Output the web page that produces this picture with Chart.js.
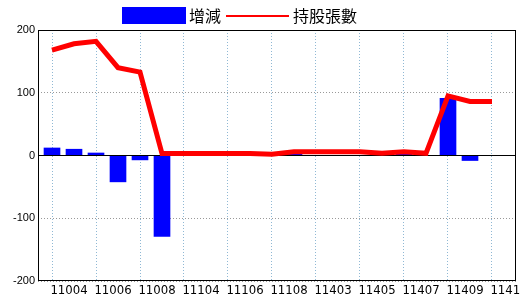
<!DOCTYPE html>
<html><head><meta charset="utf-8">
<script src="https://cdn.jsdelivr.net/npm/chart.js@4/dist/chart.umd.min.js"></script>
<style>html,body{margin:0;padding:0;background:#fff}#wrap{width:520px;height:300px}</style>
</head><body><div id="wrap"><canvas id="c" width="520" height="300"></canvas></div>
<script>
const categories = ['11004','11005','11006','11007','11008','11009','11104','11105','11106','11107','11108','11109','11403','11404','11405','11406','11407','11408','11409','11410','11411'];
const changeLabel = '增減';
const holdingLabel = '持股張數';
const changeValues = [12, 10, 4, -42, -7, -129, 0, 0, 0, 0, 0, 4, 0, 0, 0, 0, 3, 0, 91, -8, 0];
const holdingValues = [168, 178, 182, 140, 133, 3, 3, 3, 3, 3, 2, 6, 6, 6, 6, 3.5, 6, 3.5, 95, 86, 86];
const yTicks = [-200, -100, 0, 100, 200];

const pts = arr => arr.map((v, i) => ({x: i, y: v}));

const extras = {
  id: 'extras',
  afterDatasetDraw(chart, args) {
    if (args.meta.type !== 'bar') return;
    const ctx = chart.ctx, a = chart.chartArea;
    const y = Math.round(chart.scales.y.getPixelForValue(0) - 0.5) + 0.5;
    ctx.save();
    ctx.strokeStyle = '#000'; ctx.lineWidth = 1;
    ctx.beginPath(); ctx.moveTo(a.left, y); ctx.lineTo(a.right, y); ctx.stroke();
    ctx.restore();
  },
  afterDraw(chart) {
    const ctx = chart.ctx, a = chart.chartArea;
    ctx.save();
    ctx.strokeStyle = '#000'; ctx.lineWidth = 1;
    ctx.strokeRect(a.left + 0.5, a.top + 0.5, a.right - a.left - 1, a.bottom - a.top - 1);
    // legend
    const bar = chart.data.datasets.find(d => d.type === 'bar');
    const line = chart.data.datasets.find(d => d.type === 'line');
    ctx.font = '16px "Noto Sans CJK TC", sans-serif';
    ctx.textBaseline = 'middle';
    ctx.fillStyle = bar.backgroundColor;
    ctx.fillRect(122, 7, 64, 17);
    ctx.fillStyle = '#000';
    ctx.fillText(bar.label, 189, 15.5);
    ctx.strokeStyle = line.borderColor; ctx.lineWidth = 2;
    ctx.beginPath(); ctx.moveTo(226, 16); ctx.lineTo(289, 16); ctx.stroke();
    ctx.fillStyle = '#000';
    ctx.fillText(line.label, 293, 15.5);
    ctx.restore();
  }
};

new Chart(document.getElementById('c'), {
  type: 'bar',
  data: {
    datasets: [
      {type: 'line', label: holdingLabel, data: pts(holdingValues), borderColor: '#ff0000', backgroundColor: '#ff0000', borderWidth: 5, pointRadius: 0, tension: 0, fill: false, order: 0},
      {type: 'bar', label: changeLabel, data: pts(changeValues), backgroundColor: '#0000ff', borderWidth: 0, barThickness: 16, order: 1}
    ]
  },
  options: {
    responsive: false,
    animation: false,
    events: [],
    layout: {padding: {top: 30, right: 4, left: 0, bottom: 0}},
    plugins: {legend: {display: false}, tooltip: {enabled: false}},
    scales: {
      x: {
        type: 'linear',
        offset: false,
        min: -0.6364,
        max: 21.091,
        afterBuildTicks: s => { s.ticks = categories.map((c, i) => ({value: i})).filter(t => t.value % 2 === 0); },
        afterFit: s => { s.height = 19; s.paddingLeft = 0; s.paddingRight = 0; },
        grid: {color: '#8fb8d4', lineWidth: 1, drawTicks: false, offset: false},
        border: {display: false, dash: [1, 2]},
        ticks: {
          autoSkip: false, maxRotation: 0,
          labelOffset: 17, padding: 2,
          color: '#000',
          font: {family: '"DejaVu Sans Condensed", "Liberation Sans", sans-serif', size: 13},
          callback: v => categories[v]
        }
      },
      y: {
        min: -200, max: 200,
        afterBuildTicks: s => { s.ticks = yTicks.map(v => ({value: v})); },
        afterFit: s => { s.width = 38; s.paddingTop = 0; s.paddingBottom = 0; },
        grid: {color: '#999999', lineWidth: 1, drawTicks: false},
        border: {display: false, dash: [1, 2]},
        ticks: {padding: 3, color: '#000', font: {family: '"Liberation Sans", Arial, sans-serif', size: 11}}
      }
    }
  },
  plugins: [extras]
});
</script></body></html>
